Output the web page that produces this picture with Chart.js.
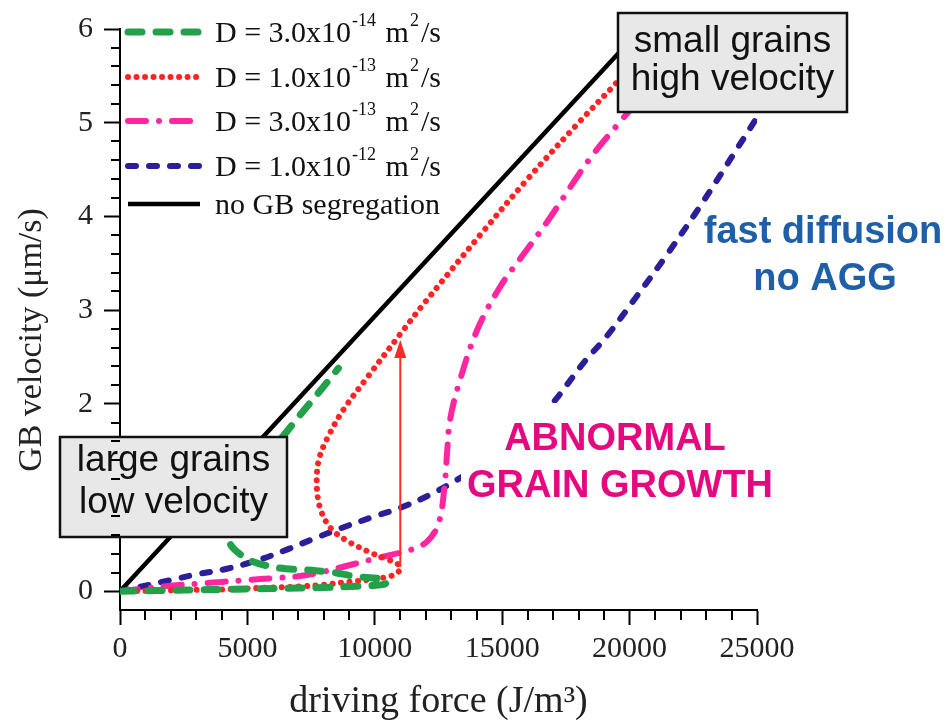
<!DOCTYPE html>
<html>
<head>
<meta charset="utf-8">
<script src="https://cdn.jsdelivr.net/npm/chart.js@4.4.1/dist/chart.umd.min.js"></script>
<style>
  html, body { margin: 0; padding: 0; background: #fff; }
  #wrap { width: 951px; height: 727px; }
</style>
</head>
<body>
<div id="wrap"><canvas id="c" width="951" height="727"></canvas></div>
<script>
// tick labels
const xTicks = [0, 5000, 10000, 15000, 20000, 25000];
const yTicks = [0, 1, 2, 3, 4, 5, 6];

// legend labels (^{..} = superscript)
const labels = [
  'D = 3.0x10^{-14} m^{2}/s',
  'D = 1.0x10^{-13} m^{2}/s',
  'D = 3.0x10^{-13} m^{2}/s',
  'D = 1.0x10^{-12} m^{2}/s',
  'no GB segregation'
];

// D = 3.0e-14 (S-shaped, points in path order)
const greenForce = [0, 1000, 2000, 3000, 4000, 5000, 6000, 7000, 8000, 9000, 9800, 10300, 10500, 10300, 9200, 8400, 7200, 6500, 5800, 5100, 4600, 4320, 4250, 4400, 4800, 5400, 6000, 6410, 7000, 7800, 8570];
const greenVel   = [0, 0.005, 0.01, 0.015, 0.02, 0.025, 0.03, 0.035, 0.04, 0.05, 0.06, 0.07, 0.1, 0.13, 0.16, 0.2, 0.23, 0.24, 0.27, 0.33, 0.42, 0.51, 0.65, 0.9, 1.15, 1.38, 1.55, 1.66, 1.86, 2.12, 2.38];

// D = 1.0e-13
const redForce = [0, 1000, 2000, 3000, 4000, 5000, 6000, 7000, 8000, 9000, 10000, 10600, 10900, 11000, 10900, 10600, 9940, 8900, 8250, 7850, 7720, 7820, 8150, 8750, 9700, 11100, 11900, 14130, 16000, 18000, 19500, 20000];
const redVel   = [0, 0.005, 0.01, 0.015, 0.02, 0.03, 0.04, 0.05, 0.07, 0.1, 0.13, 0.16, 0.2, 0.25, 0.29, 0.33, 0.4, 0.54, 0.68, 0.89, 1.17, 1.42, 1.64, 1.93, 2.28, 2.78, 3.06, 3.8, 4.4, 5.0, 5.43, 5.58];

// D = 3.0e-13
const pinkForce = [0, 1000, 2000, 3000, 4000, 5000, 6000, 7000, 8000, 9030, 10330, 11390, 12050, 12500, 12730, 12840, 12960, 13350, 14020, 14920, 15820, 16760, 18450, 19750, 20000];
const pinkVel   = [0, 0.03, 0.06, 0.08, 0.1, 0.12, 0.14, 0.16, 0.21, 0.28, 0.37, 0.44, 0.53, 0.72, 1.1, 1.49, 1.84, 2.26, 2.79, 3.25, 3.59, 3.94, 4.62, 5.05, 5.13];

// D = 1.0e-12
const blueForce = [0, 1000, 2000, 3000, 4200, 5400, 6600, 7600, 8640, 10000, 11000, 12170, 13230, 14500, 15700, 16900, 18200, 19100, 20150, 21460, 22770, 24870, 25000];
const blueVel   = [0, 0.06, 0.12, 0.18, 0.24, 0.33, 0.45, 0.56, 0.67, 0.8, 0.89, 1.03, 1.19, 1.4, 1.65, 1.98, 2.44, 2.72, 3.1, 3.59, 4.11, 5.0, 5.05];

// no GB segregation
const blackForce = [0, 20000];
const blackVel   = [0, 5.87];

// red arrow (jump at constant driving force)
const arrowForce = 11000;
const arrowFrom = 0.26;
const arrowTo = 2.68;

function pts(xs, ys) {
  return xs.map((x, i) => ({ x: x, y: ys[i] }));
}

const serif = '"Liberation Serif", "Times New Roman", serif';
const sans = '"Liberation Sans", Arial, sans-serif';

function drawRich(ctx, text, x, y, size) {
  const parts = text.split(/\^\{([^}]*)\}/);
  parts.forEach((p, i) => {
    if (i % 2) {
      ctx.font = Math.round(size * 0.6) + 'px ' + serif;
      ctx.fillText(p, x + 1, y - size * 0.52);
      x += ctx.measureText(p).width + 3;
    } else {
      ctx.font = size + 'px ' + serif;
      ctx.fillText(p, x, y);
      x += ctx.measureText(p).width;
    }
  });
}

function box(ctx, x, y, w, h, lines, baselines) {
  ctx.fillStyle = '#e8e8e8';
  ctx.fillRect(x, y, w, h);
  ctx.strokeStyle = '#111';
  ctx.lineWidth = 2.5;
  ctx.strokeRect(x, y, w, h);
  ctx.fillStyle = '#111';
  ctx.font = '37px ' + sans;
  ctx.textAlign = 'center';
  ctx.textBaseline = 'alphabetic';
  lines.forEach((t, i) => ctx.fillText(t, x + w / 2, baselines[i]));
}

const minorTicks = {
  id: 'minorTicks',
  afterDraw(chart) {
    const ctx = chart.ctx;
    const xs = chart.scales.x, ys = chart.scales.y;
    const a = chart.chartArea;
    ctx.save();
    ctx.strokeStyle = '#000';
    ctx.lineWidth = 2;
    ctx.beginPath();
    for (let v = 1000; v < 25000; v += 1000) {
      if (v % 5000 === 0) continue;
      const px = Math.round(xs.getPixelForValue(v));
      ctx.moveTo(px, a.bottom);
      ctx.lineTo(px, a.bottom + 10);
    }
    for (let k = 1; k < 31; k++) {
      if (k % 5 === 0) continue;
      const py = Math.round(ys.getPixelForValue(k * 0.2));
      ctx.moveTo(a.left, py);
      ctx.lineTo(a.left - 9, py);
    }
    ctx.stroke();

    // y axis title, sits a bit below the middle of the axis
    ctx.translate(32, 340);
    ctx.rotate(-Math.PI / 2);
    ctx.fillStyle = '#222';
    ctx.font = '34px ' + serif;
    ctx.textAlign = 'center';
    ctx.textBaseline = 'middle';
    ctx.fillText('GB velocity (μm/s)', 0, 0);
    ctx.restore();
  }
};

const overlay = {
  id: 'overlay',
  afterDatasetsDraw(chart) {
    const ctx = chart.ctx;
    const xs = chart.scales.x, ys = chart.scales.y;
    ctx.save();

    // arrow
    const ax = xs.getPixelForValue(arrowForce);
    const ay0 = ys.getPixelForValue(arrowFrom);
    const ay1 = ys.getPixelForValue(arrowTo);
    ctx.strokeStyle = '#ff2a2a';
    ctx.fillStyle = '#ff2a2a';
    ctx.lineWidth = 2;
    ctx.beginPath();
    ctx.moveTo(ax, ay0);
    ctx.lineTo(ax, ay1 + 14);
    ctx.stroke();
    ctx.beginPath();
    ctx.moveTo(ax, ay1);
    ctx.lineTo(ax - 6, ay1 + 18);
    ctx.lineTo(ax + 6, ay1 + 18);
    ctx.closePath();
    ctx.fill();

    // text labels
    ctx.fillStyle = '#fff';
    ctx.fillRect(461, 403, 320, 100);
    ctx.textAlign = 'center';
    ctx.textBaseline = 'alphabetic';
    ctx.font = 'bold 38px ' + sans;
    ctx.fillStyle = '#e5097f';
    ctx.fillText('ABNORMAL', 615, 450);
    ctx.fillText('GRAIN GROWTH', 620, 497);
    ctx.fillStyle = '#1f5fa8';
    ctx.fillText('fast diffusion', 823, 243);
    ctx.fillText('no AGG', 825, 290);

    box(ctx, 618, 13, 229, 99, ['small grains', 'high velocity'], [52, 90]);
    box(ctx, 60, 437, 227, 100, ['large grains', 'low velocity'], [471, 513]);

    // legend
    const rows = [32, 77, 121, 166, 204];
    chart.data.datasets.forEach((ds, i) => {
      const y = rows[i];
      ctx.strokeStyle = ds.borderColor;
      ctx.lineWidth = ds.borderWidth;
      ctx.lineCap = ds.borderCapStyle || 'butt';
      ctx.setLineDash(ds.borderDash || []);
      ctx.beginPath();
      ctx.moveTo(128, y);
      ctx.lineTo(200, y);
      ctx.stroke();
      ctx.setLineDash([]);
      ctx.fillStyle = '#111';
      ctx.textAlign = 'left';
      drawRich(ctx, ds.label, 215, y + 10, 30);
    });

    ctx.restore();
  }
};

const ctx = document.getElementById('c').getContext('2d');

new Chart(ctx, {
  type: 'line',
  data: {
    datasets: [{
      label: labels[0],
      data: pts(greenForce, greenVel),
      borderColor: '#22a04a',
      borderWidth: 7,
      borderDash: [14, 14],
      borderCapStyle: 'round'
    }, {
      label: labels[1],
      data: pts(redForce, redVel),
      borderColor: '#ff2424',
      borderWidth: 6,
      borderDash: [0.01, 8.5],
      borderCapStyle: 'round'
    }, {
      label: labels[2],
      data: pts(pinkForce, pinkVel),
      borderColor: '#ff26a0',
      borderWidth: 6,
      borderDash: [18, 13, 0.01, 13],
      borderCapStyle: 'round'
    }, {
      label: labels[3],
      data: pts(blueForce, blueVel),
      borderColor: '#2b1f99',
      borderWidth: 6,
      borderDash: [8, 13],
      borderCapStyle: 'round'
    }, {
      label: labels[4],
      data: pts(blackForce, blackVel),
      borderColor: '#000',
      borderWidth: 4.5
    }]
  },
  options: {
    responsive: false,
    animation: false,
    elements: {
      point: { radius: 0 },
      line: { tension: 0.35, fill: false }
    },
    layout: {
      padding: { top: 21, right: 194, left: 0, bottom: 0 }
    },
    plugins: {
      legend: { display: false },
      tooltip: { enabled: false }
    },
    scales: {
      x: {
        type: 'linear',
        min: 0,
        max: 25000,
        afterBuildTicks: s => { s.ticks = xTicks.map(v => ({ value: v })); },
        afterFit: s => { s.height = 117; },
        ticks: {
          font: { family: serif, size: 30 },
          color: '#222',
          padding: 6,
          maxRotation: 0,
          callback: v => String(v)
        },
        grid: { drawOnChartArea: false, tickLength: 15, tickColor: '#000', tickWidth: 2 },
        border: { display: true, color: '#000', width: 2 },
        title: {
          display: true,
          text: 'driving force (J/m³)',
          font: { family: serif, size: 38 },
          color: '#222',
          padding: { top: 0, bottom: 2 }
        }
      },
      y: {
        type: 'linear',
        min: -0.2,
        max: 6,
        afterBuildTicks: s => { s.ticks = yTicks.map(v => ({ value: v })); },
        afterFit: s => { s.width = 120; },
        ticks: {
          font: { family: serif, size: 30 },
          color: '#222',
          padding: 11,
          callback: v => String(v)
        },
        grid: { drawOnChartArea: false, tickLength: 16, tickColor: '#000', tickWidth: 2 },
        border: { display: true, color: '#000', width: 2 },
        title: { display: false }
      }
    }
  },
  plugins: [minorTicks, overlay]
});
</script>
</body>
</html>
